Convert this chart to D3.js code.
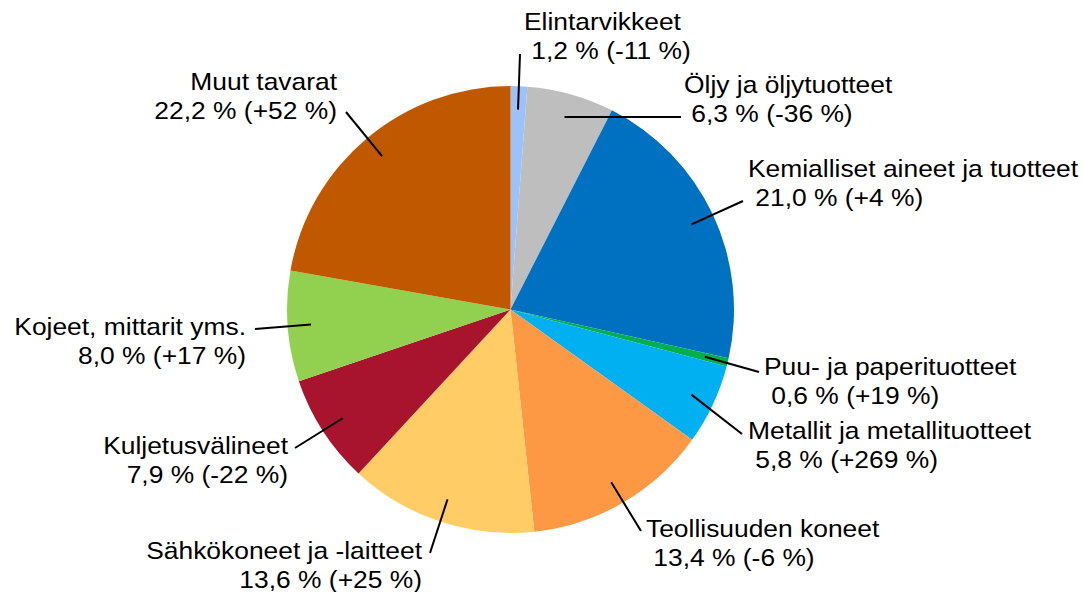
<!DOCTYPE html>
<html>
<head>
<meta charset="utf-8">
<script src="https://cdn.jsdelivr.net/npm/d3@7/dist/d3.min.js"></script>
<style>
  html, body { margin: 0; padding: 0; background: #fff; }
  svg { display: block; }
  text { font-family: "Liberation Sans", Arial, sans-serif; font-size: 24px; fill: #000; white-space: pre; }
</style>
</head>
<body>
<svg id="chart" width="1082" height="592"></svg>
<script>
// ---- data ----
const categories = [
  "Elintarvikkeet",
  "Öljy ja öljytuotteet",
  "Kemialliset aineet ja tuotteet",
  "Puu- ja paperituotteet",
  "Metallit ja metallituotteet",
  "Teollisuuden koneet",
  "Sähkökoneet ja -laitteet",
  "Kuljetusvälineet",
  "Kojeet, mittarit yms.",
  "Muut tavarat"
];
const shares = [1.2, 6.3, 21.0, 0.6, 5.8, 13.4, 13.6, 7.9, 8.0, 22.2];
const changes = [-11, -36, 4, 19, 269, -6, 25, -22, 17, 52];
const colors = ["#9cc2fb", "#bebebe", "#0070c0", "#00b050", "#00b0f0",
                "#fd9845", "#ffcc66", "#a8132d", "#92d050", "#c05800"];

// ---- layout (label placement, not data) ----
// leader end point and first-line text anchor, absolute pixels
const labelLayout = [
  { lx: 520, ly: 54,  tx: 524, ty: 30,  anchor: "start" },
  { lx: 681, ly: 117, tx: 684, ty: 93,  anchor: "start" },
  { lx: 743, ly: 201, tx: 748, ty: 177, anchor: "start" },
  { lx: 759, ly: 372, tx: 764, ty: 375, anchor: "start" },
  { lx: 742, ly: 434, tx: 748, ty: 439, anchor: "start" },
  { lx: 641, ly: 531, tx: 646, ty: 537, anchor: "start" },
  { lx: 430, ly: 553, tx: 422, ty: 559, anchor: "end" },
  { lx: 295, ly: 448, tx: 288, ty: 454, anchor: "end" },
  { lx: 255, ly: 329, tx: 246, ty: 335, anchor: "end" },
  { lx: 346, ly: 112, tx: 337, ty: 90,  anchor: "end" }
];

const cx = 510.5, cy = 309.5, R = 223.5, leaderR = 200, lineH = 29, stretchX = 1.1;

const svg = d3.select("#chart");
const g = svg.append("g").attr("transform", `translate(${cx},${cy})`);

const data = categories.map((c, i) => ({ name: c, share: shares[i], change: changes[i], color: colors[i], i }));

const pie = d3.pie().value(d => d.share).sort(null);
const arcs = pie(data);
const arc = d3.arc().innerRadius(0).outerRadius(R);
const leaderArc = d3.arc().innerRadius(leaderR).outerRadius(leaderR);

g.selectAll("path.slice").data(arcs).enter().append("path")
  .attr("class", "slice")
  .attr("d", arc)
  .attr("fill", d => d.data.color);

const fmtShare = v => d3.format(".1f")(v).replace(".", ",");
const fmtChange = v => (v > 0 ? "+" : "-") + Math.abs(v);

// leader lines
svg.selectAll("line.leader").data(arcs).enter().append("line")
  .attr("class", "leader")
  .attr("x1", d => cx + leaderArc.centroid(d)[0])
  .attr("y1", d => cy + leaderArc.centroid(d)[1])
  .attr("x2", d => labelLayout[d.data.i].lx)
  .attr("y2", d => labelLayout[d.data.i].ly)
  .attr("stroke", "#000")
  .attr("stroke-width", 2);

// labels
const lab = svg.selectAll("text.lab").data(arcs).enter().append("text")
  .attr("class", "lab")
  .attr("text-anchor", d => labelLayout[d.data.i].anchor)
  .attr("transform", d => `translate(${labelLayout[d.data.i].tx},${labelLayout[d.data.i].ty}) scale(${stretchX},1)`);
lab.append("tspan")
  .attr("x", 0)
  .attr("y", 0)
  .text(d => d.data.name);
lab.append("tspan")
  .attr("x", 0)
  .attr("y", lineH)
  .text(d => (labelLayout[d.data.i].anchor === "start" ? " " : "") +
             fmtShare(d.data.share) + " % (" + fmtChange(d.data.change) + " %)");
</script>
</body>
</html>
